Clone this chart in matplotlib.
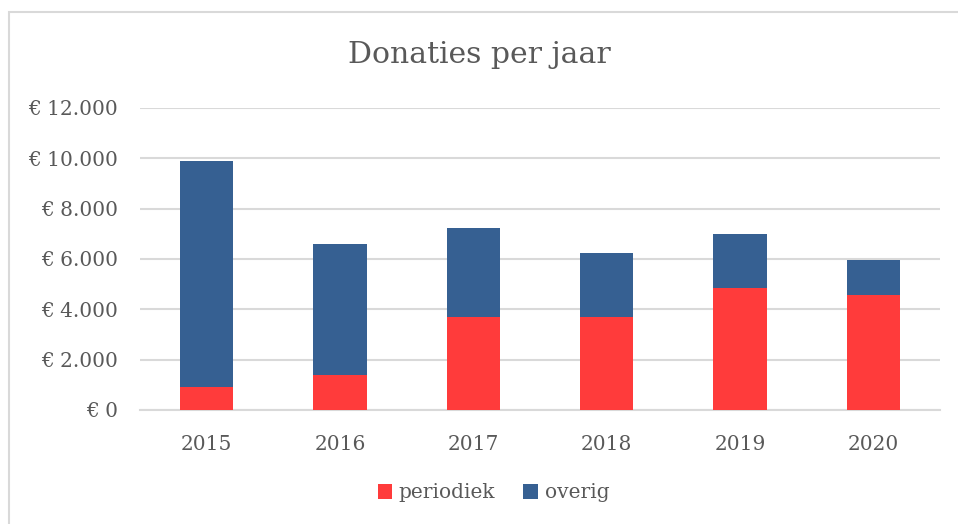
import matplotlib.pyplot as plt
from matplotlib.patches import Rectangle
from matplotlib.ticker import FuncFormatter

# Data
years = ["2015", "2016", "2017", "2018", "2019", "2020"]
periodiek = [900, 1400, 3700, 3700, 4850, 4570]
totaal = [9900, 6600, 7250, 6230, 7000, 5960]
overig = [t - p for t, p in zip(totaal, periodiek)]

text_color = "#595959"
grid_color = "#d9d9d9"
red = "#ff3b3b"
blue = "#366092"

plt.rcParams["font.family"] = ["DejaVu Serif"]

fig = plt.figure(figsize=(9.58, 5.24), dpi=100)
ax = fig.add_axes([0.1461, 0.2176, 0.8351, 0.5763])

# Outer chart border
fig.patches.append(Rectangle(
    (9 / 958, -0.1), 1.2, 1 - 12 / 524 + 0.1,
    transform=fig.transFigure,
    fill=False,
    edgecolor=grid_color,
    linewidth=1.5
))

x = range(len(years))

ax.bar(x, periodiek, width=0.4, color=red, label="periodiek", zorder=3)
ax.bar(x, overig, width=0.4, bottom=periodiek, color=blue, label="overig", zorder=3)

ax.set_xlim(-0.5, len(years) - 0.5)
ax.set_ylim(0, 12000)
ax.set_yticks(range(0, 12001, 2000))
ax.yaxis.set_major_formatter(FuncFormatter(
    lambda v, pos: "€ " + f"{int(v):,}".replace(",", ".")
))
ax.set_xticks(list(x))
ax.set_xticklabels(years)

ax.grid(axis="y", color=grid_color, linewidth=1.5, zorder=0)
for side in ["top", "right", "left"]:
    ax.spines[side].set_visible(False)
ax.spines["bottom"].set_color(grid_color)
ax.spines["bottom"].set_linewidth(1.5)

ax.tick_params(axis="both", length=0, labelsize=14.5, colors=text_color)
ax.tick_params(axis="y", pad=16)
ax.tick_params(axis="x", pad=18)

# Title
fig.text(0.5, 1 - 55 / 524, "Donaties per jaar",
         ha="center", va="center", fontsize=21.5, color=text_color)

# Legend
fig.legend(
    loc="center",
    bbox_to_anchor=(0.515, 1 - 493 / 524),
    ncol=2,
    frameon=False,
    fontsize=14.5,
    labelcolor=text_color,
    handlelength=0.7,
    handleheight=0.7,
    handletextpad=0.35,
    columnspacing=1.4
)

plt.savefig("out.png", dpi=100)
